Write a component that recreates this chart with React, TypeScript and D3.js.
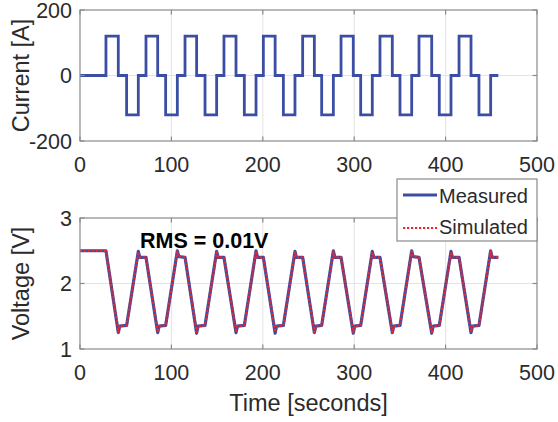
import React from 'react';
import * as d3 from 'd3';

// ---- data ----
const xTicks = [0, 100, 200, 300, 400, 500];
const currentTicks = [-200, 0, 200];
const voltageTicks = [1, 2, 3];

// current: step changes (time in s, level in A applying from that time on)
const currentTimes = [
  0, 28.4, 41.9, 51, 63.8, 72.2, 85, 93.7, 106.5, 114.9, 127.6, 136.8, 149.5, 157.5,
  170.7, 179.8, 192.6, 200.6, 213.5, 222.5, 235.2, 243.6, 256.4, 264.4, 277.2, 285.6,
  299, 307.1, 319.8, 328.2, 341.7, 350.1, 362.9, 370.9, 384.8, 393.1, 405.9, 414.7,
  427.8, 436.5, 449.3, 457.7,
];
const currentValues = [
  0, 120, 0, -120, 0, 120, 0, -120, 0, 120, 0, -120, 0, 120, 0, -120, 0, 120, 0, -120, 0,
  120, 0, -120, 0, 120, 0, -120, 0, 120, 0, -120, 0, 120, 0, -120, 0, 120, 0, -120, 0, 0,
];

// voltage breakpoints
const voltageTimes = [
  0, 28.4,
  41.9, 43.5, 51, 63.8, 65.4, 72.2,
  85, 86.6, 93.7, 106.5, 108.1, 114.9,
  127.6, 129.2, 136.8, 149.5, 151.1, 157.5,
  170.7, 172.3, 179.8, 192.6, 194.2, 200.6,
  213.5, 215.1, 222.5, 235.2, 236.8, 243.6,
  256.4, 258, 264.4, 277.2, 278.8, 285.6,
  299, 300.6, 307.1, 319.8, 321.4, 328.2,
  341.7, 343.3, 350.1, 362.9, 364.5, 370.9,
  384.8, 386.4, 393.1, 405.9, 407.5, 414.7,
  427.8, 429.4, 436.5, 449.3, 450.9, 457.7,
];
const measuredVoltage = [
  2.5, 2.5,
  1.25, 1.35, 1.36, 2.49, 2.4, 2.4,
  1.25, 1.35, 1.36, 2.5, 2.41, 2.4,
  1.24, 1.35, 1.36, 2.49, 2.4, 2.4,
  1.25, 1.35, 1.36, 2.5, 2.4, 2.4,
  1.24, 1.35, 1.36, 2.49, 2.4, 2.4,
  1.25, 1.35, 1.36, 2.5, 2.4, 2.4,
  1.24, 1.35, 1.36, 2.49, 2.4, 2.4,
  1.25, 1.35, 1.36, 2.5, 2.41, 2.4,
  1.24, 1.35, 1.36, 2.49, 2.4, 2.4,
  1.25, 1.35, 1.36, 2.5, 2.4, 2.4,
];
const simulatedVoltage = [
  2.5, 2.5,
  1.26, 1.35, 1.36, 2.48, 2.4, 2.4,
  1.26, 1.35, 1.36, 2.49, 2.41, 2.4,
  1.26, 1.35, 1.36, 2.48, 2.4, 2.4,
  1.26, 1.35, 1.36, 2.49, 2.4, 2.4,
  1.26, 1.35, 1.36, 2.48, 2.4, 2.4,
  1.26, 1.35, 1.36, 2.49, 2.4, 2.4,
  1.26, 1.35, 1.36, 2.48, 2.4, 2.4,
  1.26, 1.35, 1.36, 2.49, 2.41, 2.4,
  1.26, 1.35, 1.36, 2.48, 2.4, 2.4,
  1.26, 1.35, 1.36, 2.49, 2.4, 2.4,
];
const legendLabels = ['Measured', 'Simulated'];
const rmsLabel = 'RMS = 0.01V';
const currentLabel = 'Current [A]';
const voltageLabel = 'Voltage [V]';
const timeLabel = 'Time [seconds]';

// ---- styling ----
const W = 558;
const H = 422;
const LEFT = 80;
const RIGHT = 537;
const FONT = '"Liberation Sans", Arial, Helvetica, sans-serif';
const TEXT = '#2b2b2b';
const AXIS = '#8a8a8a';
const GRID = '#e3e3e3';
const BLUE = '#3b4ea3';
const RED = '#f0252b';

type PanelProps = {
  top: number;
  bottom: number;
  yDomain: [number, number];
  yTicks: number[];
  gridY: number[];
  label: string;
  children: (x: d3.ScaleLinear<number, number>, y: d3.ScaleLinear<number, number>) => React.ReactNode;
};

function Panel({ top, bottom, yDomain, yTicks, gridY, label, children }: PanelProps) {
  const x = d3.scaleLinear().domain([0, 500]).range([LEFT, RIGHT]);
  const y = d3.scaleLinear().domain(yDomain).range([bottom, top]);
  const tl = 4.5;
  return (
    <g>
      <rect x={LEFT} y={top} width={RIGHT - LEFT} height={bottom - top} fill="#fff" />
      {xTicks.slice(1, -1).map((t) => (
        <line key={'gx' + t} x1={x(t)} x2={x(t)} y1={top} y2={bottom} stroke={GRID} strokeWidth={1} />
      ))}
      {gridY.map((t) => (
        <line key={'gy' + t} x1={LEFT} x2={RIGHT} y1={y(t)} y2={y(t)} stroke={GRID} strokeWidth={1} />
      ))}
      {children(x, y)}
      <rect x={LEFT} y={top} width={RIGHT - LEFT} height={bottom - top} fill="none" stroke={AXIS} strokeWidth={1.2} />
      {xTicks.map((t) => (
        <g key={'tx' + t}>
          <line x1={x(t)} x2={x(t)} y1={bottom} y2={bottom - tl} stroke={AXIS} strokeWidth={1.2} />
          <line x1={x(t)} x2={x(t)} y1={top} y2={top + tl} stroke={AXIS} strokeWidth={1.2} />
          <text x={x(t)} y={bottom + 31} textAnchor="middle" fontSize={21.5} fill={TEXT} fontFamily={FONT}>
            {t}
          </text>
        </g>
      ))}
      {yTicks.map((t) => (
        <g key={'ty' + t}>
          <line x1={LEFT} x2={LEFT + tl} y1={y(t)} y2={y(t)} stroke={AXIS} strokeWidth={1.2} />
          <line x1={RIGHT} x2={RIGHT - tl} y1={y(t)} y2={y(t)} stroke={AXIS} strokeWidth={1.2} />
          <text x={LEFT - 8} y={y(t) + 7.5} textAnchor="end" fontSize={21.5} fill={TEXT} fontFamily={FONT}>
            {t < 0 ? '-' + Math.abs(t) : t}
          </text>
        </g>
      ))}
      <text
        transform={`translate(29,${(top + bottom) / 2}) rotate(-90)`}
        textAnchor="middle"
        fontSize={23.5}
        fill={TEXT}
        fontFamily={FONT}
      >
        {label}
      </text>
    </g>
  );
}

export default function App() {
  const currentData = currentTimes.map((t, i) => [t, currentValues[i]] as [number, number]);
  const measuredData = voltageTimes.map((t, i) => [t, measuredVoltage[i]] as [number, number]);
  const simulatedData = voltageTimes.map((t, i) => [t, simulatedVoltage[i]] as [number, number]);

  return (
    <svg
      width={W}
      height={H}
      style={{ position: 'absolute', left: 0, top: 0, background: '#fff' }}
      xmlns="http://www.w3.org/2000/svg"
    >
      <rect width={W} height={H} fill="#fff" />
      <Panel top={10} bottom={141} yDomain={[-200, 200]} yTicks={currentTicks} gridY={[0]} label={currentLabel}>
        {(x, y) => {
          const line = d3
            .line<[number, number]>()
            .x((d) => x(d[0]))
            .y((d) => y(d[1]))
            .curve(d3.curveStepAfter);
          return <path d={line(currentData) || ''} fill="none" stroke={BLUE} strokeWidth={2.8} strokeLinejoin="miter" />;
        }}
      </Panel>
      <Panel top={218} bottom={349} yDomain={[1, 3]} yTicks={voltageTicks} gridY={[2]} label={voltageLabel}>
        {(x, y) => {
          const line = d3
            .line<[number, number]>()
            .x((d) => x(d[0]))
            .y((d) => y(d[1]));
          return (
            <g>
              <path d={line(measuredData) || ''} fill="none" stroke={BLUE} strokeWidth={3.2} strokeLinejoin="round" />
              <path
                d={line(simulatedData) || ''}
                fill="none"
                stroke={RED}
                strokeWidth={2.2}
                strokeDasharray="2.2 1.8"
                strokeLinejoin="round"
              />
            </g>
          );
        }}
      </Panel>
      <text x={140} y={248} fontSize={21.5} fontWeight="bold" fill="#000" fontFamily={FONT}>
        {rmsLabel}
      </text>
      <text x={(LEFT + RIGHT) / 2} y={411} textAnchor="middle" fontSize={23.5} fill={TEXT} fontFamily={FONT}>
        {timeLabel}
      </text>
      {/* legend */}
      <g>
        <rect x={397} y={179} width={140} height={62} fill="#fff" stroke={AXIS} strokeWidth={1.2} />
        <line x1={403} x2={437} y1={195} y2={195} stroke={BLUE} strokeWidth={2.8} />
        <line x1={403} x2={437} y1={228} y2={228} stroke={RED} strokeWidth={2.2} strokeDasharray="2.2 1.8" />
        {legendLabels.map((l, i) => (
          <text key={l} x={439} y={203 + i * 30.5} fontSize={20} fill={TEXT} fontFamily={FONT}>
            {l}
          </text>
        ))}
      </g>
    </svg>
  );
}
